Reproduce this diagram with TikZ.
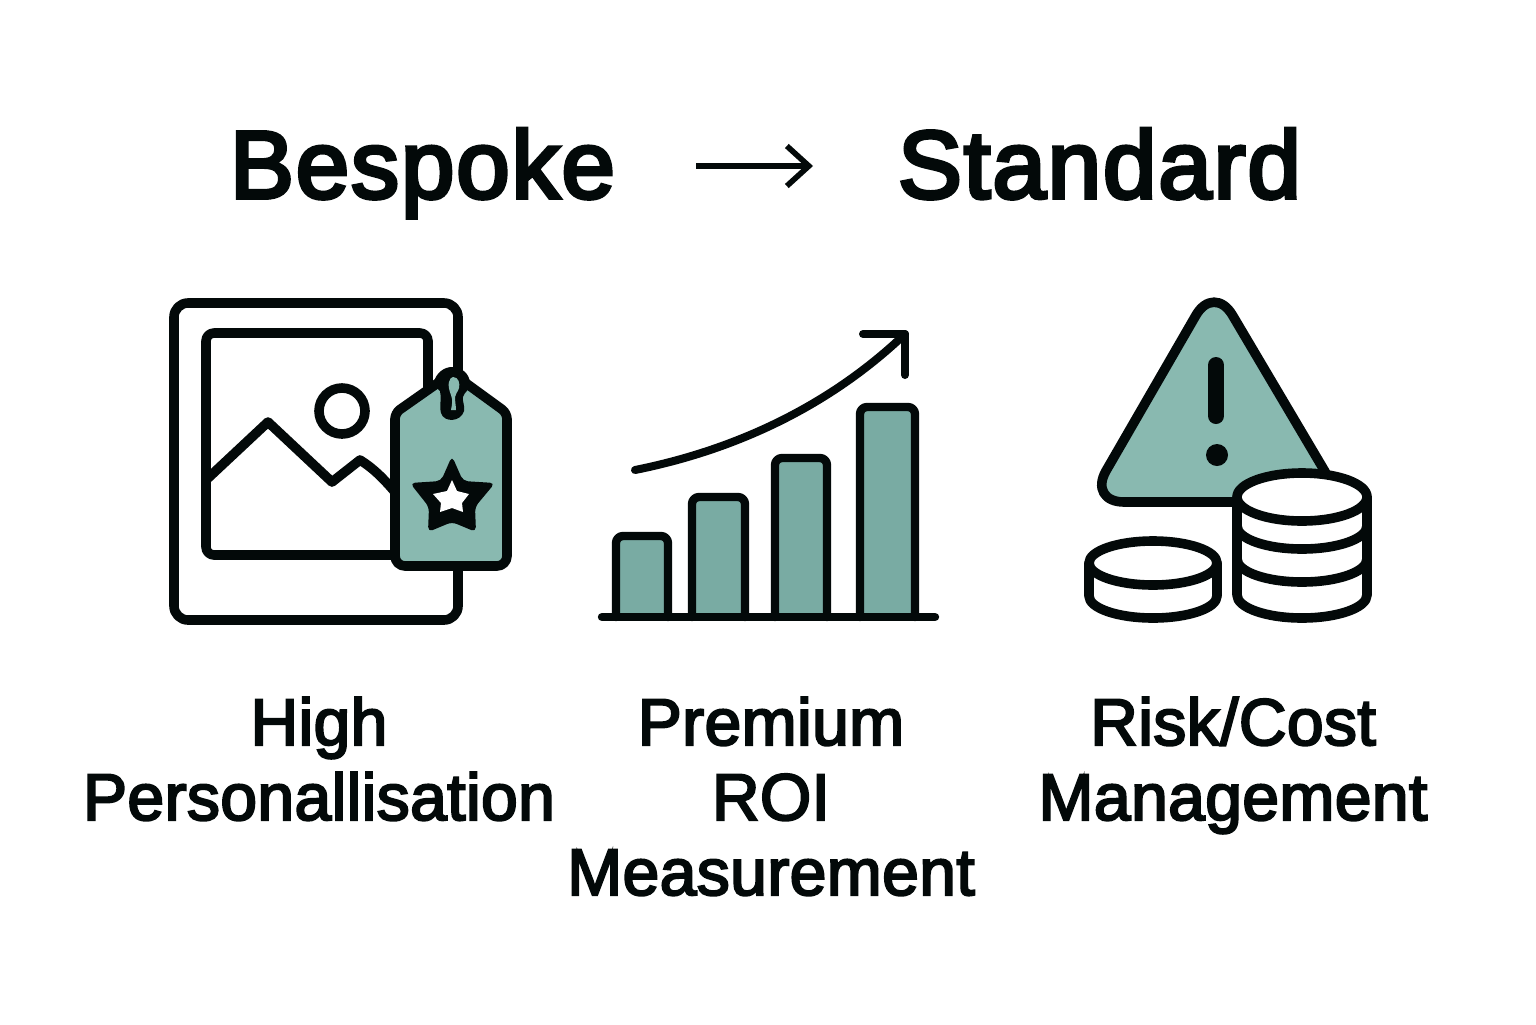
\documentclass[tikz,border=0pt]{standalone}
\usepackage{fontspec}
\newfontfamily\labelfont{Liberation Sans}[FakeBold=3.2,LetterSpace=0.6]
\newfontfamily\titlefont{Liberation Sans}[FakeBold=4,LetterSpace=2]
\usetikzlibrary{arrows.meta}
\definecolor{ink}{HTML}{030909}
\definecolor{tagteal}{HTML}{89B9B0}
\definecolor{barteal}{HTML}{79ABA3}
\tikzset{
  x=0.5pt,y=-0.5pt,
  ln/.style={draw=ink,line width=4.8pt,line join=round,line cap=round},
  thinln/.style={draw=ink,line width=4.2pt,line join=round,line cap=round},
  titletext/.style={font=\titlefont\fontsize{48}{50}\selectfont,text=ink,anchor=base,inner sep=0pt},
  labeltext/.style={font=\labelfont\fontsize{33}{37.5}\selectfont,text=ink,anchor=base,inner sep=0pt,align=center},
  barbox/.style={thinln,rounded corners=3.5pt},
  coinfill/.style={ln,fill=white}
}
\begin{document}
\begin{tikzpicture}
\useasboundingbox (0,0) rectangle (1536,1024);
\fill[white] (0,0) rectangle (1536,1024);
% title
\node[titletext] (bespoke) at (422.5,198) {Bespoke};
\node[titletext] (standard) at (1099.5,198) {Standard};
\coordinate (arrowstart) at (696,166);
\coordinate (arrowend) at (813,166);
\draw[draw=ink,line width=2.8pt,-{Straight Barb[length=11pt,width=20pt,line width=2.8pt]}] (arrowstart) -- (arrowend);
% picture frame
\draw[ln,rounded corners=7pt] (174,303) rectangle (458,620);
\draw[ln,rounded corners=4pt] (206,333) rectangle (428,555);
\draw[ln] (342,411) circle[radius=23];
\draw[ln,line cap=butt] (206,480) -- (268,422) -- (332,482) -- (360,460) .. controls (373,468) and (383,478) .. (395,492);
% tag
\draw[ln,fill=tagteal,rounded corners=3pt] (452,373) -- (507,413) [rounded corners=5pt] -- (507,566) -- (395,566) [rounded corners=3pt] -- (395,413) -- cycle;
\fill[ink] (452,367) .. controls (462,367) and (470,374) .. (470,384) .. controls (470,390) and (464,392) .. (463,397)
  .. controls (462,401) and (465,405) .. (464,411) .. controls (461,422) and (444,423) .. (441,413)
  .. controls (439,405) and (442,398) .. (440,391) .. controls (438,388) and (433,388) .. (434,382)
  .. controls (436,373) and (444,367) .. (452,367) -- cycle;
\fill[tagteal] (453,377) .. controls (459,377) and (460,384) .. (459,388) .. controls (458,392) and (455,394) .. (455,397)
  .. controls (455,402) and (456,406) .. (456,410) -- (451,410) .. controls (452,405) and (453,400) .. (451,395)
  .. controls (449,390) and (448,385) .. (449,382) .. controls (450,379) and (451,377) .. (453,377) -- cycle;
% star
\fill[ink,rounded corners=2.5pt] (452,456) -- (463,481) -- (495,483) -- (475,507) -- (476,532) -- (452,522) -- (428,532) -- (429,507) -- (410,483) -- (441,481) -- cycle;
\fill[white] (452,480) -- (457,491) -- (469,494) -- (462,503) -- (463,512) -- (452,508) -- (440,512) -- (441,503) -- (433,494) -- (447,491) -- cycle;
% bars
\foreach \l/\r/\t in {616/668/536,692/745/497,775/827/458,860/915/407}{
  \fill[barteal] (\l,\t) rectangle (\r,617);
  \draw[barbox] (\l,617) -- (\l,\t) -- (\r,\t) -- (\r,617);
}
\draw[thinln] (602,617) -- (935,617);
\draw[ln,line width=4pt] (635,470) .. controls (720,453) and (820,415) .. (905,334);
\draw[ln,line width=4pt] (863,334) -- (905,334) -- (905,375);
% warning triangle
\draw[ln,fill=tagteal,rounded corners=18pt] (1214,284) -- (1343,502) -- (1088,502) -- cycle;
\draw[draw=ink,line width=8pt,line cap=round] (1216,365) -- (1216,416);
\fill[ink] (1217,455) circle[radius=11];
% tall coin stack
\draw[coinfill] (1237,497) -- (1237,595) arc[start angle=180,end angle=0,x radius=65,y radius=23] -- (1367,497);
\draw[coinfill] (1302,497) ellipse[x radius=65,y radius=24];
\draw[ln] (1237,526) arc[start angle=180,end angle=0,x radius=65,y radius=23];
\draw[ln] (1237,559) arc[start angle=180,end angle=0,x radius=65,y radius=23];
% small coin
\draw[coinfill] (1089,563) -- (1089,596) arc[start angle=180,end angle=0,x radius=64,y radius=22] -- (1217,563);
\draw[coinfill] (1153,563) ellipse[x radius=64,y radius=22];
% labels
\node[labeltext] (high) at (319,820) {High\\Personallisation};
\node[labeltext] (premium) at (771,895) {Premium\\ROI\\Measurement};
\node[labeltext] (risk) at (1233,820) {Risk/Cost\\Management};
\end{tikzpicture}
\end{document}
